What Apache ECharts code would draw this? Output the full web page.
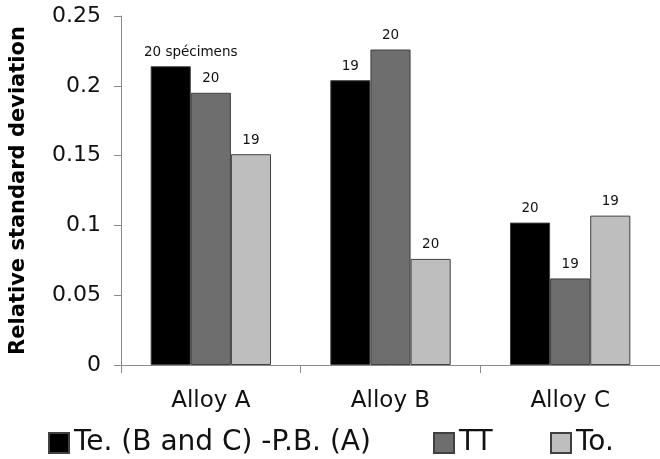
<!DOCTYPE html>
<html><head><meta charset="utf-8">
<script src="https://cdn.jsdelivr.net/npm/echarts@6/dist/echarts.min.js"></script>
<style>html,body{margin:0;padding:0;background:#fff}#c{width:660px;height:459px}</style>
</head><body><div id="c"></div>
<script>
const categories = ['Alloy A', 'Alloy B', 'Alloy C'];
const seriesNames = ['Te. (B and C) -P.B. (A)', 'TT', 'To.'];
const teValues = [0.214, 0.204, 0.102];
const ttValues = [0.195, 0.226, 0.062];
const toValues = [0.151, 0.076, 0.107];
const teLabels = ['20 spécimens', '19', '20'];
const ttLabels = ['20', '20', '19'];
const toLabels = ['19', '20', '19'];
const yTicks = [0, 0.05, 0.1, 0.15, 0.2, 0.25];

const FONT = 'DejaVu Sans';
const colors = ['#000000', '#6e6e6e', '#bebebe'];
const legendLeft = [43, 428, 545];
const vals = [teValues, ttValues, toValues];
const labs = [teLabels, ttLabels, toLabels];

const chart = echarts.init(document.getElementById('c'));
chart.setOption({
  animation: false,
  textStyle: { fontFamily: FONT },
  grid: { left: 120, right: 0, top: 16, bottom: 94 },
  legend: seriesNames.map((n, i) => ({
    top: 424, left: legendLeft[i],
    itemWidth: 20, itemHeight: 20,
    icon: 'rect', selectedMode: false,
    textStyle: { fontSize: 28, color: '#111', fontFamily: FONT },
    data: [n]
  })),
  xAxis: {
    type: 'category', data: categories,
    axisLine: { lineStyle: { color: '#8a8a8a' } },
    axisTick: { show: true, alignWithLabel: false, length: 8, lineStyle: { color: '#8a8a8a' } },
    axisLabel: { fontSize: 23, color: '#111', margin: 25, fontFamily: FONT }
  },
  yAxis: {
    type: 'value', min: 0, max: 0.25, interval: 0.05,
    name: 'Relative standard deviation', nameLocation: 'middle', nameGap: 92,
    nameTextStyle: { fontSize: 21, fontWeight: 'bold', color: '#000', fontFamily: FONT },
    splitLine: { show: false },
    axisLine: { show: true, lineStyle: { color: '#8a8a8a' } },
    axisTick: { show: true, length: 7, lineStyle: { color: '#8a8a8a' } },
    axisLabel: { fontSize: 22, color: '#111', margin: 20, fontFamily: FONT,
      formatter: v => yTicks.includes(+v.toFixed(2)) ? String(+v.toFixed(2)) : '' }
  },
  series: seriesNames.map((n, i) => ({
    name: n, type: 'bar', barGap: '0%', barCategoryGap: '33%',
    data: vals[i].map((v, j) => (i === 0 && j === 0)
      ? { value: v, label: { offset: [20, 0] } }
      : v),
    itemStyle: { color: colors[i], borderColor: '#404040', borderWidth: 1 },
    label: { show: true, position: 'top', distance: 7, fontSize: 13.5, color: '#111', fontFamily: FONT,
      formatter: p => labs[i][p.dataIndex] }
  }))
});
</script></body></html>
